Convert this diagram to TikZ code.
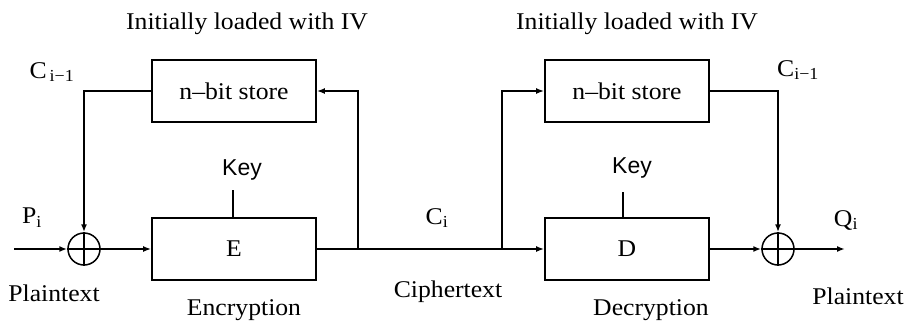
\documentclass[tikz,border=0pt]{standalone}
\usepackage{fontspec}
\setmainfont{Liberation Serif}[FakeStretch=1.07]
\setsansfont{Liberation Sans}
\usetikzlibrary{arrows.meta}
\tikzset{
  blk/.style={draw, line width=1.8pt, minimum width=164pt, minimum height=62pt, inner sep=0pt, font=\fontsize{24}{26}\selectfont},
  xorop/.style={draw, circle, line width=1.5pt, minimum size=32pt, inner sep=0pt},
  wire/.style={line width=1.7pt},
  arr/.style={wire, -{Latex[length=8pt,width=6pt]}},
  lbl/.style={font=\fontsize{24}{26}\selectfont, inner sep=0pt},
  keylbl/.style={font=\sffamily\fontsize{23}{25}\selectfont, inner sep=0pt},
}
\begin{document}
\begin{tikzpicture}[x=1pt,y=-1pt]
\useasboundingbox (0,0) rectangle (906,327);
% encryption side
\node[blk] (st1) at (234,91) {n–bit store};
\node[blk] (E) at (234,249) {E};
\node[xorop] (x1) at (84,249) {};
\draw[line width=1.2pt] (x1.north) -- (x1.south) (x1.west) -- (x1.east);
\coordinate (in1) at (14,249);
\coordinate (b1) at (358,249);
\coordinate (c1a) at (84,91);
\coordinate (c1b) at (358,91);
\draw[arr] (in1) -- (x1.west);
\draw[arr] (x1.east) -- (E.west);
\draw[arr] (st1.west) -- (c1a) -- (x1.north);
\draw[arr] (b1) -- (c1b) -- (st1.east);
\node[keylbl] (k1) at (242,170) {Key};
\coordinate (k1a) at (233,190);
\draw[wire] (k1a) -- (E.north -| k1a);
% decryption side
\node[blk] (st2) at (627,91) {n–bit store};
\node[blk] (D) at (627,249) {D};
\node[xorop] (x2) at (778,249) {};
\draw[line width=1.2pt] (x2.north) -- (x2.south) (x2.west) -- (x2.east);
\coordinate (b2) at (502,249);
\coordinate (c2a) at (502,91);
\coordinate (c2b) at (778,91);
\coordinate (out2) at (845,249);
\draw[wire] (E.east) -- (b1);
\draw[arr] (b1) -- (D.west);
\draw[arr] (b2) -- (c2a) -- (st2.west);
\draw[arr] (st2.east) -- (c2b) -- (x2.north);
\draw[arr] (D.east) -- (x2.west);
\draw[arr] (x2.east) -- (out2);
\node[keylbl] (k2) at (632,168) {Key};
\coordinate (k2a) at (623,192);
\draw[wire] (k2a) -- (D.north -| k2a);
% labels
\node[lbl] (iv1) at (247,24) {Initially loaded with IV};
\node[lbl] (iv2) at (637,24) {Initially loaded with IV};
\node[lbl] (ci1) at (52,72) {C\textsubscript{\,i−1}};
\node[lbl] (ci2) at (798,70) {C\textsubscript{i−1}};
\node[lbl] (pi) at (32,218) {P\textsubscript{i}};
\node[lbl] (cc) at (437,218) {C\textsubscript{i}};
\node[lbl] (qi) at (846,220) {Q\textsubscript{i}};
\node[lbl] (pt1) at (54,293) {Plaintext};
\node[lbl] (enc) at (244,310) {Encryption};
\node[lbl] (ct) at (448,292) {Ciphertext};
\node[lbl] (dec) at (651,310) {Decryption};
\node[lbl] (pt2) at (858,296) {Plaintext};
\end{tikzpicture}
\end{document}
